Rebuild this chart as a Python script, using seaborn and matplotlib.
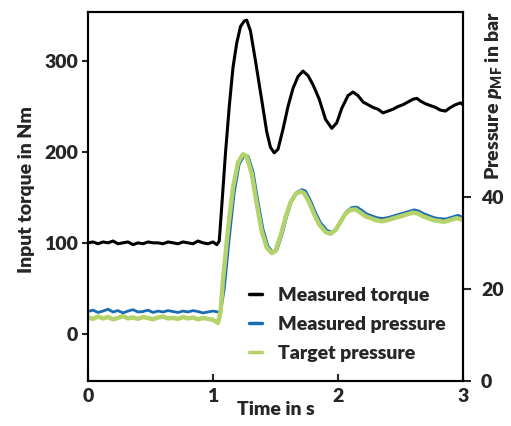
import matplotlib
matplotlib.use("Agg")
import matplotlib.pyplot as plt
import seaborn as sns

# values
torque_time = [0.00, 0.04, 0.08, 0.12, 0.16, 0.20, 0.24, 0.28, 0.32, 0.36,
               0.40, 0.44, 0.48, 0.52, 0.56, 0.60, 0.64, 0.68, 0.72, 0.76,
               0.80, 0.84, 0.88, 0.92, 0.96, 1.00,
               1.03, 1.05, 1.07, 1.10, 1.13, 1.16, 1.19, 1.22, 1.25, 1.27,
               1.30, 1.34, 1.39, 1.43, 1.46, 1.49, 1.52, 1.56, 1.60, 1.64,
               1.68, 1.72, 1.76, 1.80, 1.85, 1.90, 1.95, 1.99,
               2.03, 2.08, 2.12, 2.16, 2.20, 2.24, 2.28, 2.32, 2.36, 2.40,
               2.44, 2.48, 2.52, 2.56, 2.60, 2.63, 2.66, 2.70, 2.74, 2.78,
               2.82, 2.86, 2.90, 2.94, 2.98, 3.00]
torque = [100, 101, 99, 101, 100, 102, 99, 100, 101, 98,
          100, 99, 101, 100, 100, 99, 101, 100, 99, 101,
          100, 99, 102, 100, 99, 101,
          98, 102, 140, 199, 250, 293, 320, 338, 344, 345,
          333, 300, 257, 222, 205, 199, 203, 225, 250, 270,
          283, 289, 284, 274, 258, 236, 226, 232,
          248, 262, 266, 262, 255, 252, 249, 247, 243, 245,
          247, 250, 252, 255, 258, 259, 256, 253, 251, 249,
          246, 245, 249, 252, 254, 252]

target_time = [0.00, 0.04, 0.08, 0.12, 0.16, 0.20, 0.24, 0.28, 0.32, 0.36,
               0.40, 0.44, 0.48, 0.52, 0.56, 0.60, 0.64, 0.68, 0.72, 0.76,
               0.80, 0.84, 0.88, 0.92, 0.96, 1.00,
               1.04, 1.06, 1.08, 1.12, 1.16, 1.20, 1.24, 1.27, 1.31, 1.35,
               1.39, 1.43, 1.47, 1.50, 1.54, 1.58, 1.62, 1.66, 1.70, 1.73,
               1.77, 1.81, 1.85, 1.90, 1.94, 1.98, 2.02, 2.06, 2.10, 2.14,
               2.18, 2.22, 2.26, 2.30, 2.35, 2.40, 2.45, 2.50, 2.55, 2.60,
               2.64, 2.68, 2.72, 2.76, 2.80, 2.85, 2.90, 2.95, 3.00]
target_pressure = [13.8, 13.5, 14.0, 13.6, 13.9, 13.4, 13.7, 14.1, 13.6, 13.8,
                   13.5, 13.9, 13.7, 13.4, 13.8, 14.0, 13.6, 13.7, 13.5, 13.9,
                   13.6, 13.8, 13.4, 13.7, 13.5, 13.3,
                   12.6, 15.0, 22.0, 33.0, 42.0, 47.5, 49.3, 48.8, 45.0, 38.5,
                   32.5, 29.0, 27.8, 28.3, 31.5, 35.5, 38.8, 40.6, 41.2, 40.8,
                   38.8, 36.2, 34.0, 32.4, 32.0, 32.8, 34.6, 36.4, 37.2, 37.3,
                   36.6, 35.8, 35.4, 35.0, 34.7, 35.0, 35.4, 35.8, 36.2, 36.6,
                   36.4, 35.8, 35.4, 35.0, 34.8, 34.6, 35.0, 35.4, 35.0]

measured_time = [0.00, 0.04, 0.08, 0.12, 0.16, 0.20, 0.24, 0.28, 0.32, 0.36,
                 0.40, 0.44, 0.48, 0.52, 0.56, 0.60, 0.64, 0.68, 0.72, 0.76,
                 0.80, 0.84, 0.88, 0.92, 0.96, 1.00, 1.04,
                 1.06, 1.09, 1.13, 1.17, 1.21, 1.25, 1.28, 1.32, 1.36, 1.40,
                 1.44, 1.48, 1.51, 1.55, 1.59, 1.63, 1.67, 1.71, 1.74, 1.78,
                 1.82, 1.86, 1.91, 1.95, 1.99, 2.03, 2.07, 2.11, 2.15, 2.19,
                 2.23, 2.27, 2.31, 2.36, 2.41, 2.46, 2.51, 2.56, 2.61, 2.65,
                 2.69, 2.73, 2.77, 2.81, 2.86, 2.91, 2.96, 3.00]
measured_pressure = [15.1, 15.4, 14.9, 15.2, 15.6, 15.0, 15.3, 14.8, 15.2, 15.5,
                     15.0, 15.1, 15.4, 14.9, 15.2, 15.0, 15.3, 15.1, 14.9, 15.2,
                     15.0, 15.3, 15.1, 14.8, 15.0, 15.2, 15.0,
                     15.0, 20.0, 31.0, 41.0, 47.2, 49.0, 48.9, 45.5, 39.0, 33.0,
                     29.3, 27.9, 28.4, 31.6, 35.8, 39.2, 41.0, 41.6, 41.3, 39.2,
                     36.6, 34.4, 32.8, 32.3, 33.2, 35.1, 36.9, 37.7, 37.8, 37.1,
                     36.3, 35.9, 35.5, 35.3, 35.6, 36.0, 36.4, 36.8, 37.2, 36.9,
                     36.3, 35.9, 35.5, 35.3, 35.2, 35.6, 36.0, 35.6]

TORQUE_COLOR = "black"
MEASURED_COLOR = "#1a6db5"
TARGET_COLOR = "#b4d36a"
FS = 14


def main():
    sns.set_style("ticks")
    plt.rcParams["font.family"] = ["Lato", "DejaVu Sans"]
    plt.rcParams["font.weight"] = "heavy"
    plt.rcParams["mathtext.fontset"] = "custom"
    plt.rcParams["mathtext.it"] = "Lato:italic:heavy"
    plt.rcParams["mathtext.bf"] = "Lato:heavy"
    plt.rcParams["axes.linewidth"] = 1.5

    fig = plt.figure(figsize=(5.11, 4.26), dpi=100)
    ax = fig.add_axes([88 / 511, 45 / 426, 375 / 511, 369 / 426])
    ax2 = ax.twinx()

    sns.lineplot(x=torque_time, y=torque, ax=ax, color=TORQUE_COLOR,
                 linewidth=2.2, estimator=None, label="Measured torque")
    sns.lineplot(x=measured_time, y=measured_pressure, ax=ax2, color=MEASURED_COLOR,
                 linewidth=2.0, estimator=None, label="Measured pressure")
    sns.lineplot(x=target_time, y=target_pressure, ax=ax2, color=TARGET_COLOR,
                 linewidth=3.2, estimator=None, label="Target pressure")

    ax.set_xlim(0, 3)
    ax.set_ylim(-52, 354)
    ax2.set_ylim(0, 80.2)
    ax.set_xticks([0, 1, 2, 3])
    ax.set_yticks([0, 100, 200, 300])
    ax2.set_yticks([0, 20, 40])

    ax.tick_params(axis="x", direction="in", length=5, width=1.5, pad=5, labelsize=FS)
    ax.tick_params(axis="y", direction="out", length=4, width=1.5, pad=3, labelsize=FS)
    ax2.tick_params(axis="y", direction="out", length=6, width=1.5, pad=7, labelsize=FS)

    ax.set_xlabel("Time in s", fontsize=FS, fontweight="heavy", labelpad=-3)
    ax.set_ylabel("Input torque in Nm", fontsize=FS, fontweight="heavy")
    ax.yaxis.set_label_coords(-0.142, 0.52)
    ax2.set_ylabel(r"Pressure $p_{\mathbf{MF}}$ in bar", fontsize=FS,
                   fontweight="heavy")
    ax2.yaxis.set_label_coords(1.053, 0.775)

    for a in (ax, ax2):
        for s in a.spines.values():
            s.set_linewidth(1.5)
            s.set_color("black")

    h1, l1 = ax.get_legend_handles_labels()
    h2, l2 = ax2.get_legend_handles_labels()
    ax.get_legend().remove()
    ax2.get_legend().remove()
    leg = ax2.legend(h1 + h2, l1 + l2, loc="upper left", bbox_to_anchor=(0.43, 0.255),
                     frameon=False, handlelength=0.65, handletextpad=0.85,
                     labelspacing=0.62, borderpad=0, borderaxespad=0,
                     prop={"size": FS, "weight": "heavy"})
    for line in leg.get_lines():
        line.set_linewidth(2.5)

    fig.savefig("out.png", dpi=100)


if __name__ == "__main__":
    main()
